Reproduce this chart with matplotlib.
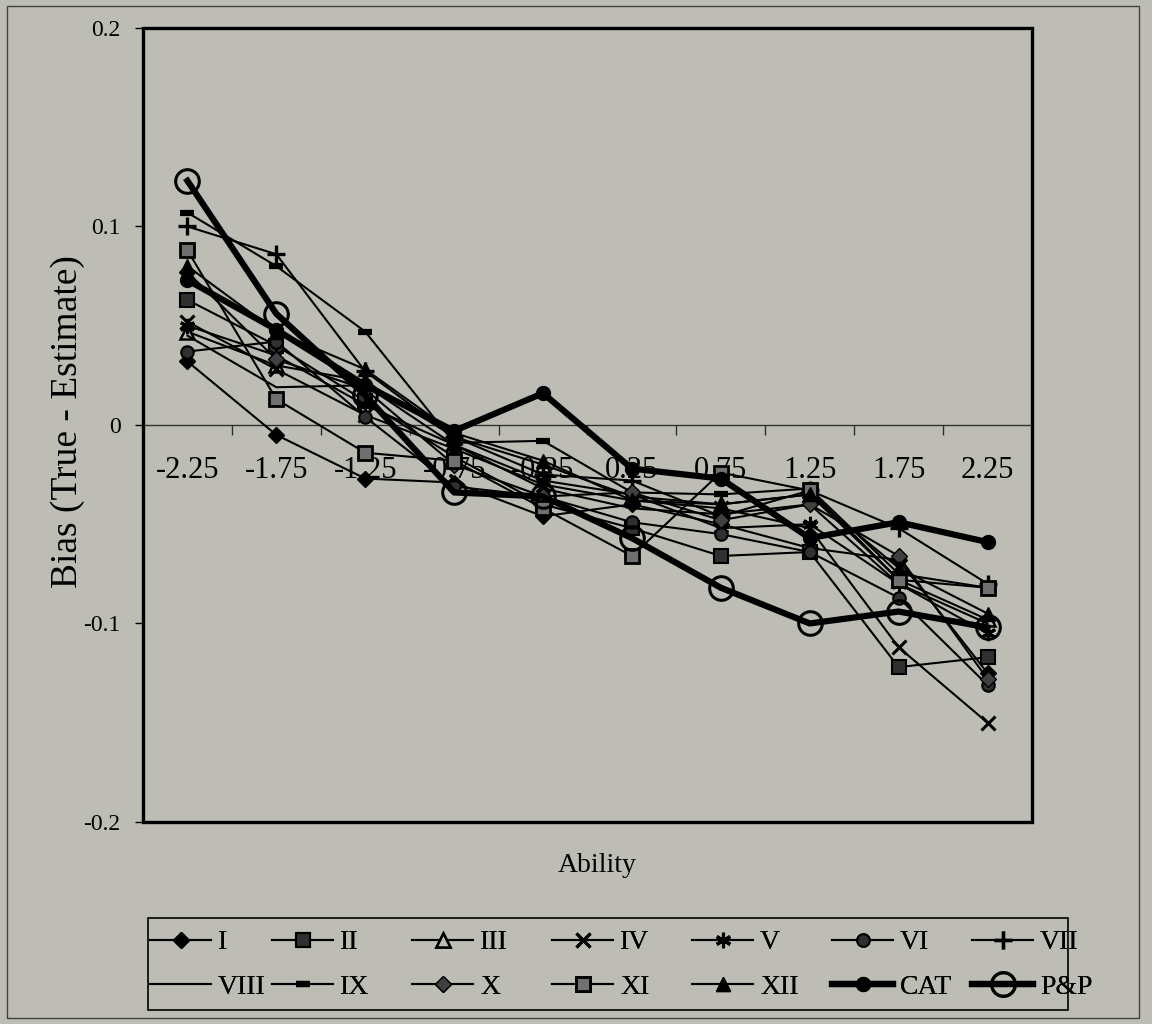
import matplotlib
matplotlib.use('Agg')
import matplotlib.pyplot as plt
from matplotlib.patches import Rectangle

# ability levels on the category axis
ability = ['-2.25', '-1.75', '-1.25', '-0.75', '-0.25', '0.25', '0.75', '1.25', '1.75', '2.25']

# bias (true - estimate) for each test form
bias_I = [0.032, -0.005, -0.027, -0.029, -0.046, -0.040, -0.050, -0.062, -0.068, -0.125]
bias_II = [0.063, 0.040, 0.012, -0.016, -0.040, -0.052, -0.066, -0.064, -0.122, -0.117]
bias_III = [0.047, 0.030, 0.022, -0.006, -0.020, -0.036, -0.040, -0.035, -0.078, -0.098]
bias_IV = [0.052, 0.028, 0.005, -0.012, -0.030, -0.038, -0.042, -0.052, -0.112, -0.150]
bias_V = [0.050, 0.035, 0.010, -0.010, -0.028, -0.035, -0.052, -0.050, -0.080, -0.105]
bias_VI = [0.037, 0.042, 0.004, -0.031, -0.036, -0.049, -0.055, -0.064, -0.087, -0.131]
bias_VII = [0.100, 0.086, 0.027, -0.006, -0.025, -0.028, -0.046, -0.033, -0.052, -0.080]
bias_VIII = [0.045, 0.019, 0.020, -0.010, -0.032, -0.042, -0.045, -0.040, -0.080, -0.100]
bias_IX = [0.107, 0.080, 0.047, -0.009, -0.008, -0.034, -0.035, -0.032, -0.075, -0.082]
bias_X = [0.077, 0.033, 0.018, -0.020, -0.036, -0.034, -0.048, -0.040, -0.066, -0.128]
bias_XI = [0.088, 0.013, -0.014, -0.018, -0.042, -0.066, -0.024, -0.033, -0.078, -0.082]
bias_XII = [0.080, 0.047, 0.028, -0.004, -0.018, -0.038, -0.040, -0.035, -0.072, -0.095]
bias_CAT = [0.073, 0.048, 0.020, -0.003, 0.016, -0.022, -0.027, -0.057, -0.049, -0.059]
bias_PP = [0.123, 0.056, 0.015, -0.034, -0.036, -0.057, -0.082, -0.100, -0.094, -0.102]

y_ticks = [-0.2, -0.1, 0, 0.1, 0.2]
y_labels = ['-0.2', '-0.1', '0', '0.1', '0.2']

plt.rcParams['font.family'] = ['Liberation Serif', 'DejaVu Serif']
plt.rcParams['axes.unicode_minus'] = False

BG = '#bebdb5'
thin = dict(color='k', lw=1.5)
thick = dict(color='k', lw=4.5)

series = [
    ('I', bias_I, dict(marker='D', ms=8, mfc='k', mec='k', **thin)),
    ('II', bias_II, dict(marker='s', ms=10, mfc='#303030', mec='k', mew=1.5, **thin)),
    ('III', bias_III, dict(marker='^', ms=10, mfc=BG, mec='k', mew=1.8, **thin)),
    ('IV', bias_IV, dict(marker='x', ms=10, mec='k', mew=2.2, **thin)),
    ('V', bias_V, dict(marker=(6, 2, 0), ms=11, mec='k', mew=2.2, **thin)),
    ('VI', bias_VI, dict(marker='o', ms=9, mfc='#303030', mec='k', mew=1.5, **thin)),
    ('VII', bias_VII, dict(marker='+', ms=13, mec='k', mew=2.4, **thin)),
    ('VIII', bias_VIII, dict(marker='None', **thin)),
    ('IX', bias_IX, dict(marker='_', ms=10, mec='k', mew=4.5, **thin)),
    ('X', bias_X, dict(marker='D', ms=8, mfc='#404040', mec='k', **thin)),
    ('XI', bias_XI, dict(marker='s', ms=10, mfc='#707070', mec='k', mew=2, **thin)),
    ('XII', bias_XII, dict(marker='^', ms=10, mfc='k', mec='k', **thin)),
    ('CAT', bias_CAT, dict(marker='o', ms=10, mfc='k', mec='k', **thick)),
    ('P&P', bias_PP, dict(marker='o', ms=17, mfc='none', mec='k', mew=2.2, **thick)),
]

fig = plt.figure(figsize=(11.52, 10.24), dpi=100, facecolor=BG)
ax = fig.add_axes([0.1241, 0.1973, 0.7717, 0.7754], facecolor=BG)

x = list(range(len(ability)))
handles = {}
for name, vals, style in series:
    line, = ax.plot(x, vals, label=name, zorder=3, **style)
    handles[name] = line

ax.set_xlim(-0.5, len(ability) - 0.5)
ax.set_ylim(-0.2, 0.2)
ax.set_axisbelow(True)

# frame around the plot area, category axis runs along y = 0
for side in ['left', 'right', 'top']:
    ax.spines[side].set_visible(False)
ax.spines['bottom'].set_position(('data', 0))
ax.spines['bottom'].set_linewidth(1.0)
ax.spines['bottom'].set_color('#303030')
ax.add_patch(Rectangle((0, 0), 1, 1, transform=ax.transAxes, fill=False,
                       ec='k', lw=2.4, clip_on=False, zorder=4))

ax.set_xticks(x)
ax.set_xticklabels(ability)
ax.set_xticks([i + 0.5 for i in range(len(ability) - 1)], minor=True)
ax.tick_params(axis='x', which='major', length=0, pad=22, labelsize=22)
ax.tick_params(axis='x', which='minor', length=7, width=1, direction='out', color='#303030')

ax.set_yticks(y_ticks)
ax.set_yticklabels(y_labels)
ax.tick_params(axis='y', length=6, width=1, pad=10, labelsize=17)

fig.text(597 / 1152, 1 - 866 / 1024, 'Ability', ha='center', va='center', fontsize=20)
fig.text(68 / 1152, 1 - 422 / 1024, 'Bias (True - Estimate)', rotation=90,
         ha='center', va='center', fontsize=27)

# legend box with seven evenly spaced columns, two entries each
W, H = 1152, 1024
box_left, box_right, box_top, box_bottom = 148, 1068, 918, 1010
fig.add_artist(Rectangle((box_left / W, 1 - box_bottom / H),
                         (box_right - box_left) / W, (box_bottom - box_top) / H,
                         transform=fig.transFigure, fill=False, ec='k', lw=1.2))
names = [s[0] for s in series]
col_x = [150] + [272 + 140 * c for c in range(6)]
for col in range(7):
    pair = [names[col], names[col + 7]]
    lg = fig.legend([handles[n] for n in pair], pair, loc='upper left',
                    bbox_to_anchor=(col_x[col] / W, 1 - (box_top + 12) / H),
                    frameon=False, fontsize=20, handlelength=2.2, handletextpad=0.25,
                    borderpad=0, borderaxespad=0, labelspacing=0.67)
    fig.add_artist(lg)

fig.add_artist(Rectangle((7 / W, 1 - 1018 / H), 1132 / W, 1012 / H,
                         transform=fig.transFigure, fill=False, ec='#404040', lw=1))

fig.savefig('out.png', dpi=100, facecolor=BG)
